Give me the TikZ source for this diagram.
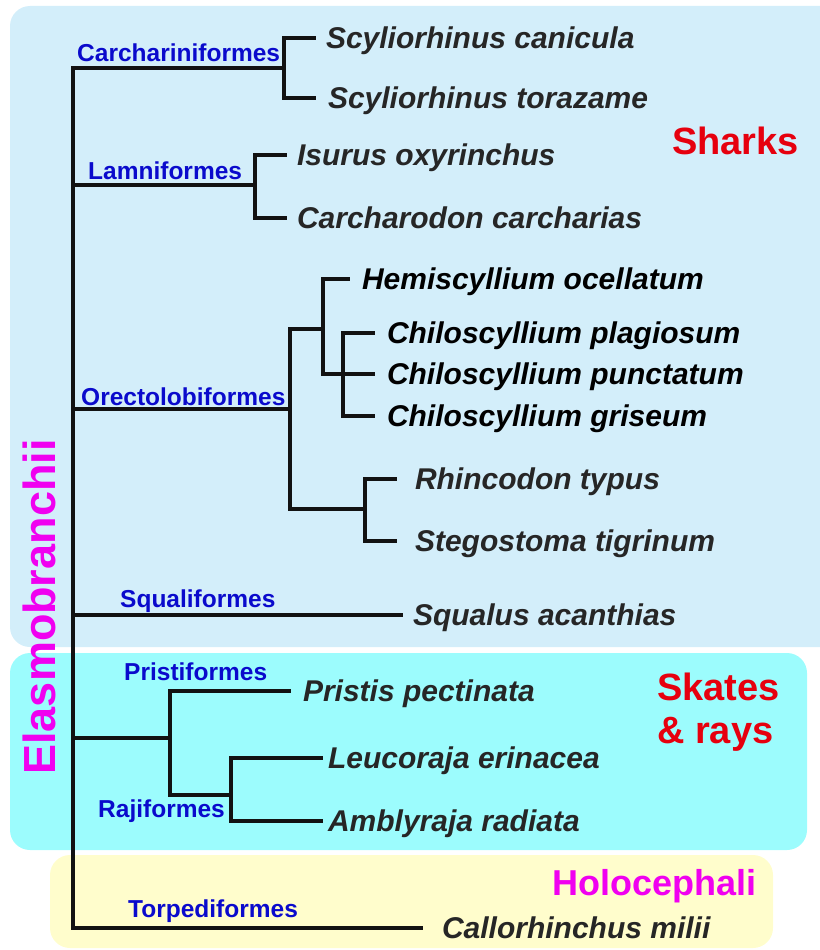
\documentclass[tikz,border=0pt]{standalone}
\usepackage{fontspec}
\setmainfont{Liberation Sans}
\definecolor{sharkbg}{HTML}{D3EEFA}
\definecolor{raybg}{HTML}{9CFCFD}
\definecolor{holobg}{HTML}{FFFDCC}
\definecolor{ordblue}{HTML}{0A0ACC}
\definecolor{grpred}{HTML}{E6000E}
\definecolor{grpmag}{HTML}{F000F0}
\definecolor{spgray}{HTML}{262626}
\usetikzlibrary{calc}
\tikzset{
  tree/.style={line width=3.5pt,draw=black!93},
  sp/.style={font=\fontsize{30}{32}\selectfont\bfseries\itshape,text=spgray,
             anchor=west,inner sep=0pt,outer xsep=10pt,text height=21.5pt,text depth=0pt},
  spk/.style={sp,text=black},
  ord/.style={font=\fontsize{24.5}{26}\selectfont\bfseries,text=ordblue,
              anchor=base west,inner sep=0pt},
  grp/.style={font=\fontsize{38}{43}\selectfont\bfseries,text=grpred,
              anchor=base west,inner sep=0pt,align=left},
  bg/.style={rounded corners=20pt}
}
\begin{document}
\begin{tikzpicture}[x=1pt,y=-1pt]
    \useasboundingbox (0,0) rectangle (819,950);
    % coloured panels
    \fill[sharkbg,bg] (10,6) rectangle (840,647);
    \fill[raybg,bg] (10,653) rectangle (807,850);
    \fill[holobg,bg] (50,855) rectangle (773,948);
    % branch points
    \coordinate (top) at (73,68);
    \coordinate (bot) at (73,928);
    \coordinate (carch) at (284,68);
    \coordinate (lamn) at (255,185);
    \coordinate (orect) at (290,409);
    \coordinate (hemi) at (323,329);
    \coordinate (chilo) at (343,374);
    \coordinate (rhin) at (365,509);
    \coordinate (rays) at (170,738);
    \coordinate (raji) at (231,795);
    % species
    \node[sp] (scan) at (316,38) {Scyliorhinus canicula};
    \node[sp,outer xsep=12pt] (stor) at (316,98) {Scyliorhinus torazame};
    \node[sp] (isur) at (287,155) {Isurus oxyrinchus};
    \node[sp] (ccar) at (287,218) {Carcharodon carcharias};
    \node[spk,outer xsep=12pt] (hoce) at (350,279) {Hemiscyllium ocellatum};
    \node[spk,outer xsep=12pt] (cpla) at (375,333) {Chiloscyllium plagiosum};
    \node[spk,outer xsep=12pt] (cpun) at (375,374) {Chiloscyllium punctatum};
    \node[spk,outer xsep=12pt] (cgri) at (375,416) {Chiloscyllium griseum};
    \node[sp,outer xsep=18pt] (rtyp) at (397,479) {Rhincodon typus};
    \node[sp,outer xsep=18pt] (stig) at (397,541) {Stegostoma tigrinum};
    \node[sp] (squa) at (403,615) {Squalus acanthias};
    \node[sp,outer xsep=12pt] (ppec) at (291,691) {Pristis pectinata};
    \node[sp,outer xsep=5pt] (leri) at (323,758) {Leucoraja erinacea};
    \node[sp,outer xsep=5pt] (arad) at (323,821) {Amblyraja radiata};
    \node[sp,outer xsep=19pt] (cmil) at (423,928) {Callorhinchus milii};
    % orders
    \node[ord] (lcarch) at (77,62) {Carchariniformes};
    \node[ord] (llamn) at (88,179) {Lamniformes};
    \node[ord] (lorect) at (81,405) {Orectolobiformes};
    \node[ord] (lsqua) at (120,607) {Squaliformes};
    \node[ord] (lpris) at (124,680) {Pristiformes};
    \node[ord] (lraji) at (98,817) {Rajiformes};
    \node[ord] (ltorp) at (128,917) {Torpediformes};
    % groups
    \node[grp] (sharks) at (672,154) {Sharks};
    \node[grp] (skates) at (657,743) {Skates\\\& rays};
    \node[grp,font=\fontsize{36}{40}\selectfont\bfseries,text=grpmag] (holo) at (552,895) {Holocephali};
    \node[font=\fontsize{45}{48}\selectfont\bfseries,text=grpmag,rotate=90,anchor=base,inner sep=0pt]
         (elas) at (55,607) {Elasmobranchii};
    % tree
    \draw[tree] (carch) -- (top) -- (bot) -- (cmil.west);
    \draw[tree] (carch) |- (scan.west);
    \draw[tree] (carch) |- (stor.west);
    \draw[tree] (top|-lamn) -- (lamn);
    \draw[tree] (lamn) |- (isur.west);
    \draw[tree] (lamn) |- (ccar.west);
    \draw[tree] (top|-orect) -- (orect);
    \draw[tree] (orect) |- (hemi);
    \draw[tree] (orect) |- (rhin);
    \draw[tree] (hemi) |- (hoce.west);
    \draw[tree] (hemi) |- (chilo);
    \draw[tree] (chilo) |- (cpla.west);
    \draw[tree] (chilo) -- (cpun.west);
    \draw[tree] (chilo) |- (cgri.west);
    \draw[tree] (rhin) |- (rtyp.west);
    \draw[tree] (rhin) |- (stig.west);
    \draw[tree] (top|-squa.west) -- (squa.west);
    \draw[tree] (top|-rays) -- (rays);
    \draw[tree] (rays) |- (ppec.west);
    \draw[tree] (rays) |- (raji);
    \draw[tree] (raji) |- (leri.west);
    \draw[tree] (raji) |- (arad.west);
\end{tikzpicture}
\end{document}
